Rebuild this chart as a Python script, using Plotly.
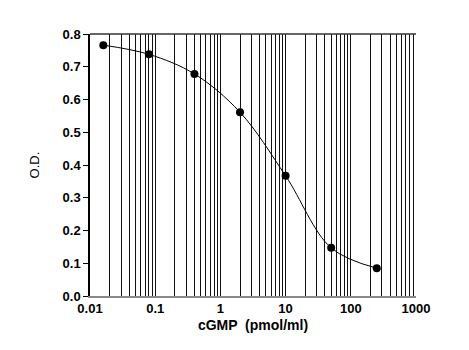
import plotly.graph_objects as go

# cGMP standard curve (5-fold dilution series)
conc = [0.016, 0.08, 0.4, 2, 10, 50, 250]
od = [0.766, 0.738, 0.678, 0.561, 0.367, 0.147, 0.085]

x_tick_vals = [0.01, 0.1, 1, 10, 100, 1000]
x_tick_text = ["0.01", "0.1", "1", "10", "100", "1000"]

grid_col = "#111111"
bold_font = dict(size=13, family="Liberation Sans, Arial, sans-serif", weight="bold")

fig = go.Figure()

# fitted curve through the standards
fig.add_trace(go.Scatter(
    x=conc, y=od, mode="lines",
    line=dict(color="black", width=1, shape="spline", smoothing=1.0),
    hoverinfo="skip", showlegend=False,
))

# measured standards
fig.add_trace(go.Scatter(
    x=conc, y=od, mode="markers",
    marker=dict(color="black", size=8),
    showlegend=False,
))

fig.update_layout(
    width=469, height=350,
    margin=dict(l=90, r=53, t=34, b=54),
    paper_bgcolor="white", plot_bgcolor="white",
    font=dict(family="Liberation Sans, Arial, sans-serif", color="black"),
    xaxis=dict(
        type="log", range=[-2, 3],
        tickvals=x_tick_vals, ticktext=x_tick_text,
        tickfont=bold_font,
        showgrid=True, gridcolor=grid_col, gridwidth=1.3,
        minor=dict(dtick="D1", showgrid=True, gridcolor=grid_col, gridwidth=1.3, ticks=""),
        showline=True, linecolor="#888888", linewidth=1.5,
        ticks="", zeroline=False,
        title=dict(text="cGMP  (pmol/ml)", standoff=5,
                   font=dict(size=14, weight="bold")),
    ),
    yaxis=dict(
        range=[0, 0.8], dtick=0.1, tickformat=".1f",
        tickfont=bold_font,
        showgrid=False, zeroline=False,
        showline=True, linecolor="black", linewidth=1.5,
        ticks="outside", ticklen=5, tickcolor="black", tickwidth=1,
        title=dict(text="O.D.", standoff=20, font=dict(size=13)),
    ),
    shapes=[dict(type="line", xref="x domain", yref="y domain",
                 x0=0, x1=1, y0=1, y1=1,
                 line=dict(color="#333333", width=1.5))],
)

fig.write_html("out.html")
